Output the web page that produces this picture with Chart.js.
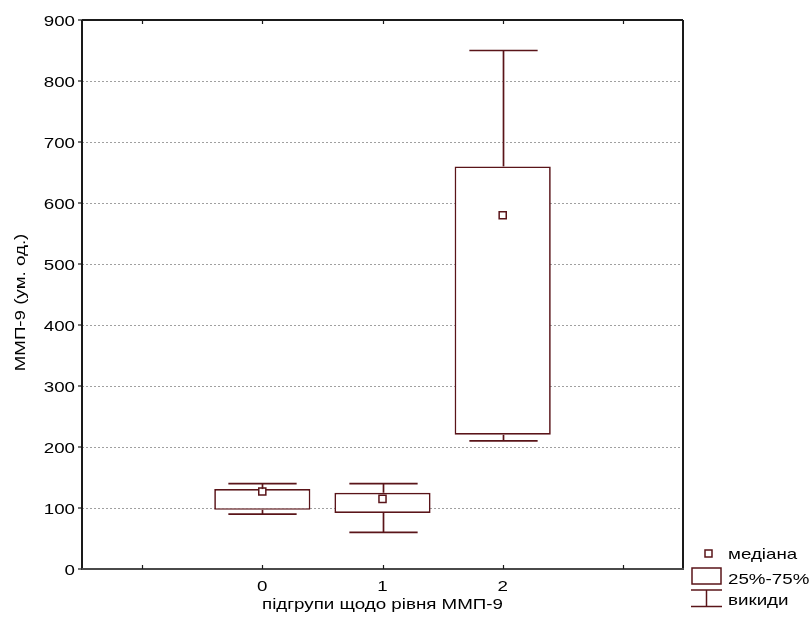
<!DOCTYPE html>
<html lang="uk">
<head>
<meta charset="utf-8">
<title>ММП-9 за підгрупами</title>
<script src="https://cdn.jsdelivr.net/npm/chart.js@4/dist/chart.umd.min.js"></script>
<style>
    html, body { margin: 0; padding: 0; background: #fff; }
    #wrap { width: 811px; height: 633px; }
</style>
</head>
<body>
<div id="wrap"><canvas id="chartMmp" width="811" height="633"></canvas></div>
<script>
// Підгрупи по осі X (крайні порожні — поля як у Statistica)
const categories = ["", "0", "1", "2", ""];

// Описова статистика ММП-9 (ум. од.) для кожної підгрупи
const whiskerLow  = [null,  90,  60, 210, null];
const boxLow      = [null,  97,  92, 220, null];
const medians     = [null, 127, 115, 580, null];
const boxHigh     = [null, 131, 125, 660, null];
const whiskerHigh = [null, 140, 140, 850, null];

const yTickValues = [0, 100, 200, 300, 400, 500, 600, 700, 800, 900];

const legendLabels = ["медіана", "25%-75%", "викиди"];
const yTitle = "ММП-9 (ум. од.)";
const xTitle = "підгрупи щодо рівня ММП-9";

const MAROON = "#5a1419";
const FONT = '15px "Liberation Sans", Arial, sans-serif';
const STRETCH = 1.25; // шрифт у Statistica ширший за звичайний Arial

/**
 * Пише текст з горизонтальним розтягуванням (вздовж рядка).
 */
function drawWide(ctx, text, x, y, align, angle) {
    ctx.save();
    ctx.translate(x, y);
    if (angle) ctx.rotate(angle);
    ctx.scale(STRETCH, 1);
    ctx.font = FONT;
    ctx.fillStyle = "#000";
    ctx.textAlign = align;
    ctx.textBaseline = "alphabetic";
    ctx.fillText(text, 0, 0);
    ctx.restore();
}

function line(ctx, x1, y1, x2, y2) {
    ctx.beginPath();
    ctx.moveTo(x1, y1);
    ctx.lineTo(x2, y2);
    ctx.stroke();
}

// Вуса: від квартилів до меж, з поперечними рисками
const whiskerPlugin = {
    id: "whiskers",
    afterDatasetsDraw(chart) {
        const { ctx, scales: { x, y } } = chart;
        const bars = chart.getDatasetMeta(0).data;
        ctx.save();
        ctx.strokeStyle = MAROON;
        ctx.lineWidth = 1.7;
        categories.forEach((c, i) => {
            if (whiskerLow[i] == null) return;
            const cx = Math.round(x.getPixelForValue(i)) + 0.5;
            const half = bars[i].width * 0.355;
            const yMin = y.getPixelForValue(whiskerLow[i]);
            const yMax = y.getPixelForValue(whiskerHigh[i]);
            line(ctx, cx, y.getPixelForValue(boxLow[i]), cx, yMin);
            line(ctx, cx, y.getPixelForValue(boxHigh[i]), cx, yMax);
            line(ctx, cx - half, yMin, cx + half, yMin);
            line(ctx, cx - half, yMax, cx + half, yMax);
        });
        ctx.restore();
    }
};

// Рамка, риски, підписи осей та легенда
const framePlugin = {
    id: "frame",
    afterDraw(chart) {
        const { ctx, chartArea: a, scales: { x, y } } = chart;
        ctx.save();

        // рамка
        ctx.lineWidth = 2;
        ctx.strokeStyle = "#1a1a1a";
        line(ctx, a.left, a.bottom, a.left, a.top);
        line(ctx, a.left, a.top, a.right, a.top);
        line(ctx, a.right, a.top, a.right, a.bottom);
        ctx.strokeStyle = "#4a4a4a";
        line(ctx, a.left - 1, a.bottom, a.right + 1, a.bottom);

        // риски осі Y назовні, осі X — всередину
        ctx.lineWidth = 1.2;
        ctx.strokeStyle = "#1a1a1a";
        y.ticks.forEach(t => {
            const py = y.getPixelForValue(t.value);
            line(ctx, a.left - 4, py, a.left, py);
        });
        categories.forEach((c, i) => {
            const px = Math.round(x.getPixelForValue(i)) + 0.5;
            line(ctx, px, a.bottom, px, a.bottom - 4);
            line(ctx, px, a.top, px, a.top + 4);
        });

        // підписи рисок
        y.ticks.forEach(t => {
            drawWide(ctx, String(t.value), a.left - 7, y.getPixelForValue(t.value) + 5.5, "right");
        });
        categories.forEach((c, i) => {
            if (c) drawWide(ctx, c, x.getPixelForValue(i), a.bottom + 22, "center");
        });

        // назви осей
        drawWide(ctx, yTitle, 25, (a.top + a.bottom) / 2 + 8, "center", -Math.PI / 2);
        drawWide(ctx, xTitle, (a.left + a.right) / 2, a.bottom + 40, "center");

        // легенда
        const lx = a.right + 8;
        ctx.strokeStyle = MAROON;
        ctx.fillStyle = "#fff";
        ctx.lineWidth = 1.5;
        ctx.fillRect(lx + 14, 550, 7, 7);
        ctx.strokeRect(lx + 14, 550, 7, 7);
        ctx.strokeRect(lx + 1, 568, 29, 16);
        line(ctx, lx, 590, lx + 31, 590);
        line(ctx, lx, 606.5, lx + 31, 606.5);
        line(ctx, lx + 15.5, 590, lx + 15.5, 606.5);
        drawWide(ctx, legendLabels[0], lx + 37, 559, "left");
        drawWide(ctx, legendLabels[1], lx + 37, 584, "left");
        drawWide(ctx, legendLabels[2], lx + 37, 605, "left");

        ctx.restore();
    }
};

function initMmpChart() {
    const canvas = document.getElementById("chartMmp");

    new Chart(canvas, {
        data: {
            labels: categories,
            datasets: [
                {
                    // коробка 25%-75%
                    type: "bar",
                    data: boxLow.map((lo, i) => lo == null ? null : [lo, boxHigh[i]]),
                    backgroundColor: "#fff",
                    borderColor: MAROON,
                    borderWidth: 1.7,
                    borderSkipped: false,
                    barPercentage: 0.8,
                    categoryPercentage: 1.0,
                    order: 2
                },
                {
                    // медіана
                    type: "line",
                    data: medians,
                    showLine: false,
                    pointStyle: "rect",
                    pointRadius: 5,
                    pointBackgroundColor: "#fff",
                    pointBorderColor: MAROON,
                    pointBorderWidth: 1.5,
                    order: 1
                }
            ]
        },
        options: {
            responsive: false,
            animation: false,
            layout: { padding: { top: 20, right: 128, left: 0, bottom: 0 } },
            plugins: { legend: { display: false }, tooltip: { enabled: false } },
            scales: {
                x: {
                    type: "category",
                    offset: true,
                    grid: { display: false },
                    border: { display: false },
                    ticks: { display: false },
                    afterFit: s => { s.height = 64; }
                },
                y: {
                    min: 0,
                    max: 900,
                    afterBuildTicks: s => { s.ticks = yTickValues.map(v => ({ value: v })); },
                    grid: {
                        drawTicks: false,
                        color: ctx => (ctx.tick && (ctx.tick.value === 0 || ctx.tick.value === 900)) ? "rgba(0,0,0,0)" : "#a0a0a0",
                        lineWidth: 1
                    },
                    border: { display: false, dash: [2, 2] },
                    ticks: { display: false },
                    afterFit: s => { s.width = 82; }
                }
            }
        },
        plugins: [whiskerPlugin, framePlugin]
    });
}

document.addEventListener("DOMContentLoaded", initMmpChart);
</script>
</body>
</html>
